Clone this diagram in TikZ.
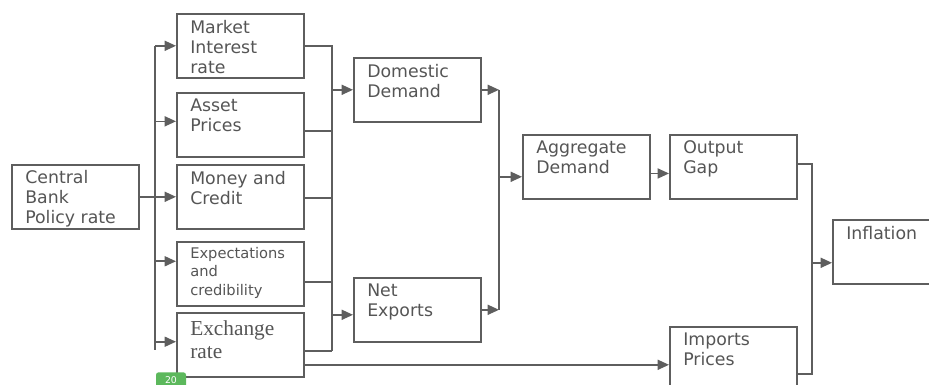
\documentclass[tikz,border=0pt]{standalone}
\usepackage{fontspec}
\setmainfont{DejaVu Sans}
\newfontfamily\timesfont{Liberation Serif}
\usetikzlibrary{arrows.meta}

\definecolor{linegray}{HTML}{5E5E5E}
\definecolor{textgray}{HTML}{555555}
\definecolor{badgegreen}{HTML}{5CB85C}

\tikzset{
  box/.style={draw=linegray, line width=1.2pt, anchor=north west, inner sep=0pt,
    minimum width=95.25pt, minimum height=48pt},
  lbl/.style={anchor=north west, inner sep=0pt, align=left, text=textgray,
    font=\fontsize{13}{15}\selectfont, xshift=10.5pt, yshift=-5pt},
  wire/.style={draw=linegray, line width=1.2pt},
  arr/.style={wire, -{Triangle[length=8.5pt,width=7.5pt]}},
  badge/.style={fill=badgegreen, rounded corners=2pt, text=white, anchor=north,
    font=\fontsize{7}{7}\selectfont, minimum width=22.5pt, minimum height=12pt, inner sep=0.5pt}
}

\begin{document}
\begin{tikzpicture}[x=0.75pt,y=-0.75pt]
\useasboundingbox (0,0) rectangle (929,385);
\clip (0,0) rectangle (929,385);

% first column
\node[box, label={[lbl, yshift=0.5pt]north west:Central\\Bank\\Policy rate}] (cb) at (11,164) {};

% channels
\node[box, label={[lbl]north west:Market\\Interest\\rate}] (mir) at (176,13) {};
\node[box, label={[lbl]north west:Asset\\Prices}] (ap) at (176,92) {};
\node[box, label={[lbl]north west:Money and\\Credit}] (mc) at (176,164) {};
\node[box, label={[lbl, font=\fontsize{11}{13.9}\selectfont, yshift=0.7pt]north west:Expectations\\and\\credibility}] (ec) at (176,241) {};
\node[box, label={[lbl, font=\timesfont\fontsize{16}{17.3}\selectfont, yshift=-1.3pt]north west:Exchange\\rate}] (er) at (176,312) {};

% demand
\node[box, label={[lbl]north west:Domestic\\Demand}] (dd) at (353,57) {};
\node[box, label={[lbl]north west:Net\\Exports}] (ne) at (353,277) {};
\node[box, label={[lbl]north west:Aggregate\\Demand}] (ad) at (522,134) {};
\node[box, label={[lbl]north west:Output\\Gap}] (og) at (669,134) {};
\node[box, label={[lbl]north west:Imports\\Prices}] (ip) at (669,326) {};
\node[box, label={[lbl]north west:Inflation}] (inf) at (832,219) {};

% bus lines
\coordinate (lb) at (155,0);
\coordinate (lbend) at (155,350);
\coordinate (rb) at (332,0);
\coordinate (sb) at (499,0);
\coordinate (tb) at (812,0);

% policy rate to the channels
\draw[wire] (cb.east) -- (cb.east -| lb);
\draw[wire] (mir.west -| lb) -- (lbend);
\foreach \b/\s in {mir/0pt, ap/2.6pt, mc/0pt, ec/9.4pt, er/2.3pt}
  \draw[arr] ([yshift=\s]\b.west -| lb) -- ([yshift=\s]\b.west);

% channels to demand
\draw[wire] (mir.east) -- (mir.east -| rb) -- ([yshift=-4.5pt]er.east -| rb);
\foreach \b/\s in {ap/-4.5pt, mc/-1pt, ec/-6pt, er/-4.5pt}
  \draw[wire] ([yshift=\s]\b.east) -- ([yshift=\s]\b.east -| rb);
\draw[arr] (dd.west -| rb) -- (dd.west);
\draw[arr] ([yshift=-3.75pt]ne.west -| rb) -- ([yshift=-3.75pt]ne.west);

% demand to aggregate demand
\draw[arr] (dd.east) -- (dd.east -| sb);
\draw[arr] (ne.east) -- (ne.east -| sb);
\draw[wire] (dd.east -| sb) -- (ne.east -| sb);
\draw[arr] ([yshift=-7.5pt]ad.west -| sb) -- ([yshift=-7.5pt]ad.west);
\draw[arr] ([yshift=-5pt]ad.east) -- ([yshift=-5pt]og.west);

% to inflation
\draw[wire] ([yshift=2pt]og.east) -- ([yshift=2pt]og.east -| tb)
  -- ([yshift=-11.25pt]ip.east -| tb) -- ([yshift=-11.25pt]ip.east);
\draw[arr] ([yshift=-8.25pt]inf.west -| tb) -- ([yshift=-8.25pt]inf.west);
\draw[arr] ([yshift=-15pt]er.east) -- ([yshift=-15pt]er.east -| ip.west);

\node[badge] (pg) at (171,372) {20};
\end{tikzpicture}
\end{document}
